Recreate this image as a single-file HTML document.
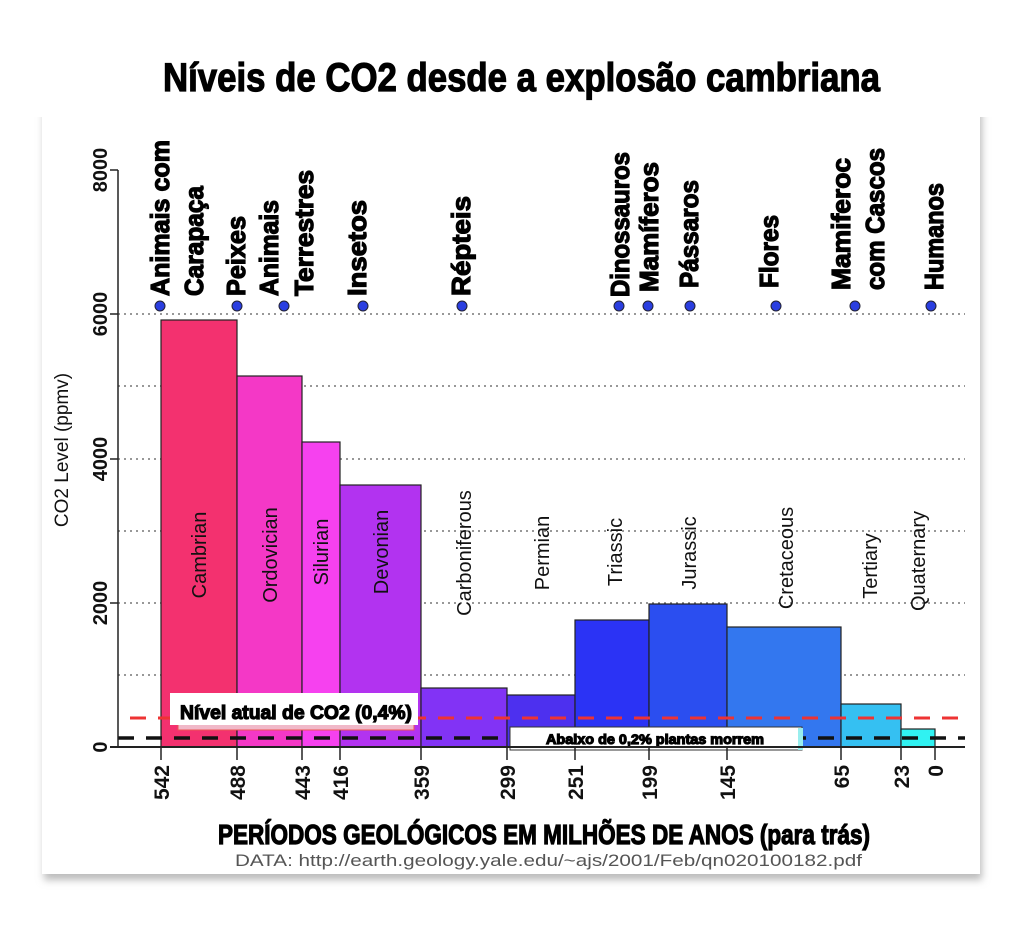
<!DOCTYPE html>
<html><head><meta charset="utf-8"><style>
html,body{margin:0;padding:0;background:#fff;}
svg{display:block;}
.c{font-family:"Liberation Sans Narrow","Liberation Sans",sans-serif;font-weight:bold;stroke:#000;stroke-width:1.2;}
.s{font-family:"Liberation Sans",sans-serif;}
</style></head><body>
<svg width="1024" height="927" viewBox="0 0 1024 927" xmlns="http://www.w3.org/2000/svg">
<defs>
<filter id="sh" x="-5%" y="-5%" width="110%" height="110%"><feGaussianBlur stdDeviation="4"/></filter>
</defs>
<rect x="0" y="0" width="1024" height="927" fill="#fff"/>
<rect x="44" y="98" width="938" height="782" fill="#bbb" filter="url(#sh)"/>
<rect x="42" y="92" width="938" height="782" fill="#fff"/>
<rect x="0" y="0" width="1024" height="117" fill="#fff"/>
<text x="163" y="91" class="c" font-size="40" stroke-width="1.8" textLength="717" lengthAdjust="spacingAndGlyphs" fill="#000">Níveis de CO2 desde a explosão cambriana</text>

<g stroke="#777" stroke-width="1.5" stroke-dasharray="2,4">
<line x1="118" y1="314" x2="965" y2="314"/>
<line x1="118" y1="386" x2="965" y2="386"/>
<line x1="118" y1="459" x2="965" y2="459"/>
<line x1="118" y1="531" x2="965" y2="531"/>
<line x1="118" y1="603" x2="965" y2="603"/>
<line x1="118" y1="675" x2="965" y2="675"/>
</g>

<g stroke="#222" stroke-width="1.2">
<rect x="161" y="320" width="76" height="427" fill="#f3316f"/>
<rect x="237" y="376" width="65" height="371" fill="#f438c6"/>
<rect x="302" y="442" width="38" height="305" fill="#f641ef"/>
<rect x="340" y="485" width="81" height="262" fill="#b233f0"/>
<rect x="421" y="688" width="86" height="59" fill="#8233f5"/>
<rect x="507" y="695" width="68" height="52" fill="#4d30ef"/>
<rect x="575" y="620" width="74" height="127" fill="#2b33f5"/>
<rect x="649" y="604" width="78" height="143" fill="#2b4ef0"/>
<rect x="727" y="627" width="114" height="120" fill="#3377ef"/>
<rect x="841" y="704" width="60" height="43" fill="#35c0f2"/>
<rect x="901" y="729" width="34" height="18" fill="#30f2f2"/>
</g>

<g class="s" font-size="20" fill="#111" text-anchor="middle">
<text transform="translate(206,555) rotate(-90)">Cambrian</text>
<text transform="translate(277,555) rotate(-90)">Ordovician</text>
<text transform="translate(328,552) rotate(-90)">Silurian</text>
<text transform="translate(388,552) rotate(-90)">Devonian</text>
<text transform="translate(471,553) rotate(-90)">Carboniferous</text>
<text transform="translate(549,553) rotate(-90)">Permian</text>
<text transform="translate(622,552) rotate(-90)">Triassic</text>
<text transform="translate(696,553) rotate(-90)">Jurassic</text>
<text transform="translate(793,558) rotate(-90)">Cretaceous</text>
<text transform="translate(877,566) rotate(-90)">Tertiary</text>
<text transform="translate(925,561) rotate(-90)">Quaternary</text>
</g>

<line x1="130" y1="718" x2="965" y2="718" stroke="#e33" stroke-width="3" stroke-dasharray="16,12"/>
<line x1="118" y1="738" x2="965" y2="738" stroke="#111" stroke-width="3.5" stroke-dasharray="16,12"/>

<rect x="178" y="700" width="236" height="30" fill="#f0b8c8" stroke="#e55" stroke-width="1"/>
<rect x="170" y="693" width="248" height="32" fill="#fff"/>
<text x="180" y="719" class="c" font-size="19" stroke-width="0.8" textLength="232" lengthAdjust="spacingAndGlyphs">Nível atual de CO2 (0,4%)</text>
<rect x="510" y="727" width="292" height="23" fill="#fff" stroke="#333" stroke-width="1"/>
<rect x="798" y="728" width="5" height="22" fill="#9ee"/>
<text x="546" y="744" class="c" font-size="14" stroke-width="0.5" textLength="218" lengthAdjust="spacingAndGlyphs">Abaixo de 0,2% plantas morrem</text>

<line x1="118" y1="170" x2="118" y2="747" stroke="#222" stroke-width="1.5"/>
<line x1="110" y1="747" x2="965" y2="747" stroke="#222" stroke-width="2"/>
<g stroke="#222" stroke-width="1.5">
<line x1="110" y1="170" x2="118" y2="170"/>
<line x1="110" y1="314" x2="118" y2="314"/>
<line x1="110" y1="459" x2="118" y2="459"/>
<line x1="110" y1="603" x2="118" y2="603"/>
<line x1="161" y1="747" x2="161" y2="760"/>
<line x1="237" y1="747" x2="237" y2="760"/>
<line x1="302" y1="747" x2="302" y2="760"/>
<line x1="340" y1="747" x2="340" y2="760"/>
<line x1="421" y1="747" x2="421" y2="760"/>
<line x1="507" y1="747" x2="507" y2="760"/>
<line x1="575" y1="747" x2="575" y2="760"/>
<line x1="649" y1="747" x2="649" y2="760"/>
<line x1="727" y1="747" x2="727" y2="760"/>
<line x1="841" y1="747" x2="841" y2="760"/>
<line x1="901" y1="747" x2="901" y2="760"/>
<line x1="935" y1="747" x2="935" y2="760"/>
</g>
<g class="s" font-size="20" font-weight="bold" fill="#111" text-anchor="middle">
<text transform="translate(107,170) rotate(-90)">8000</text>
<text transform="translate(107,314) rotate(-90)">6000</text>
<text transform="translate(107,459) rotate(-90)">4000</text>
<text transform="translate(107,603) rotate(-90)">2000</text>
<text transform="translate(107,747) rotate(-90)">0</text>
</g>
<text transform="translate(68,450) rotate(-90)" class="s" font-size="19" text-anchor="middle" fill="#111">CO2 Level (ppmv)</text>

<g class="s" font-size="21" font-weight="bold" fill="#111" text-anchor="end">
<text transform="translate(169,765) rotate(-90)">542</text>
<text transform="translate(245,765) rotate(-90)">488</text>
<text transform="translate(310,765) rotate(-90)">443</text>
<text transform="translate(348,765) rotate(-90)">416</text>
<text transform="translate(429,765) rotate(-90)">359</text>
<text transform="translate(515,765) rotate(-90)">299</text>
<text transform="translate(583,765) rotate(-90)">251</text>
<text transform="translate(657,765) rotate(-90)">199</text>
<text transform="translate(735,765) rotate(-90)">145</text>
<text transform="translate(849,765) rotate(-90)">65</text>
<text transform="translate(909,765) rotate(-90)">23</text>
<text transform="translate(943,765) rotate(-90)">0</text>
</g>

<text x="218" y="844" class="c" font-size="28" stroke-width="1.4" textLength="652" lengthAdjust="spacingAndGlyphs">PERÍODOS GEOLÓGICOS EM MILHÕES DE ANOS (para trás)</text>
<text x="235" y="866" class="s" font-size="17" fill="#555" textLength="627" lengthAdjust="spacingAndGlyphs">DATA: http://earth.geology.yale.edu/~ajs/2001/Feb/qn020100182.pdf</text>

<g class="c" font-size="26" fill="#000">
<text transform="translate(169,296) rotate(-90)" textLength="156" lengthAdjust="spacingAndGlyphs">Animais com</text>
<text transform="translate(203,296) rotate(-90)" textLength="110" lengthAdjust="spacingAndGlyphs">Carapaça</text>
<text transform="translate(245,296) rotate(-90)" textLength="80" lengthAdjust="spacingAndGlyphs">Peixes</text>
<text transform="translate(278,296) rotate(-90)" textLength="96" lengthAdjust="spacingAndGlyphs">Animais</text>
<text transform="translate(313,296) rotate(-90)" textLength="126" lengthAdjust="spacingAndGlyphs">Terrestres</text>
<text transform="translate(366,296) rotate(-90)" textLength="96" lengthAdjust="spacingAndGlyphs">Insetos</text>
<text transform="translate(470,296) rotate(-90)" textLength="100" lengthAdjust="spacingAndGlyphs">Répteis</text>
<text transform="translate(629,297) rotate(-90)" textLength="145" lengthAdjust="spacingAndGlyphs">Dinossauros</text>
<text transform="translate(658,292) rotate(-90)" textLength="130" lengthAdjust="spacingAndGlyphs">Mamíferos</text>
<text transform="translate(698,288) rotate(-90)" textLength="108" lengthAdjust="spacingAndGlyphs">Pássaros</text>
<text transform="translate(778,288) rotate(-90)" textLength="73" lengthAdjust="spacingAndGlyphs">Flores</text>
<text transform="translate(850,290) rotate(-90)" textLength="132" lengthAdjust="spacingAndGlyphs">Mamiferoc</text>
<text transform="translate(884,290) rotate(-90)" textLength="142" lengthAdjust="spacingAndGlyphs">com Cascos</text>
<text transform="translate(943,290) rotate(-90)" textLength="107" lengthAdjust="spacingAndGlyphs">Humanos</text>
</g>
<g fill="#2a3ee0" stroke="#223" stroke-width="1">
<circle cx="160" cy="306" r="5"/><circle cx="237" cy="306" r="5"/><circle cx="284" cy="306" r="5"/>
<circle cx="363" cy="306" r="5"/><circle cx="462" cy="306" r="5"/><circle cx="619" cy="306" r="5"/>
<circle cx="648" cy="306" r="5"/><circle cx="690" cy="306" r="5"/><circle cx="776" cy="306" r="5"/>
<circle cx="855" cy="306" r="5"/><circle cx="931" cy="306" r="5"/>
</g>
</svg>
</body></html>
